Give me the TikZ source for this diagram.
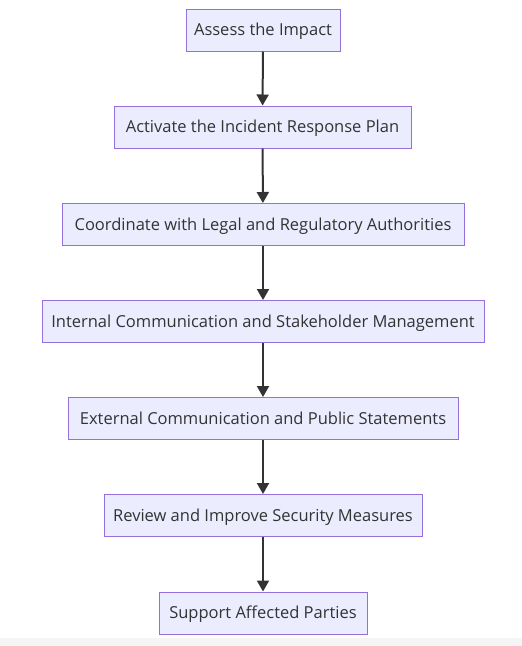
\documentclass[tikz,border=0pt]{standalone}
\usepackage{fontspec}
\setmainfont{Open Sans}
\usetikzlibrary{arrows.meta}
\definecolor{nodefill}{HTML}{ECECFF}
\definecolor{nodeline}{HTML}{9370DB}
\definecolor{ink}{HTML}{333333}
\begin{document}
\begin{tikzpicture}[x=1pt,y=-1pt,
  stepbox/.style={draw=nodeline, fill=nodefill, line width=1pt, text=ink,
    minimum height=42pt, inner sep=0pt, text height=11.5pt, text depth=0pt,
    font=\fontsize{16.5}{19}\selectfont},
  flow/.style={draw=ink, line width=2pt, -{Triangle[length=11pt,width=12pt]}}]
\useasboundingbox (0,0) rectangle (522,646);
\fill[white] (0,0) rectangle (522,646);
\fill[black!4] (0,638) rectangle (522,646);
\node[stepbox, minimum width=154pt] (n1) at (263,30) {Assess the Impact};
\node[stepbox, minimum width=297pt] (n2) at (262.5,127) {Activate the Incident Response Plan};
\node[stepbox, minimum width=402pt] (n3) at (263,224.5) {Coordinate with Legal and Regulatory Authorities};
\node[stepbox, minimum width=442pt] (n4) at (263,321.5) {Internal Communication and Stakeholder Management};
\node[stepbox, minimum width=390pt] (n5) at (263,418.5) {External Communication and Public Statements};
\node[stepbox, minimum width=318pt] (n6) at (263,515.5) {Review and Improve Security Measures};
\node[stepbox, minimum width=208pt] (n7) at (263,613) {Support Affected Parties};
\draw[flow] (n1) -- (n2);
\draw[flow] (n2) -- (n3);
\draw[flow] (n3) -- (n4);
\draw[flow] (n4) -- (n5);
\draw[flow] (n5) -- (n6);
\draw[flow] (n6) -- (n7);
\end{tikzpicture}
\end{document}
